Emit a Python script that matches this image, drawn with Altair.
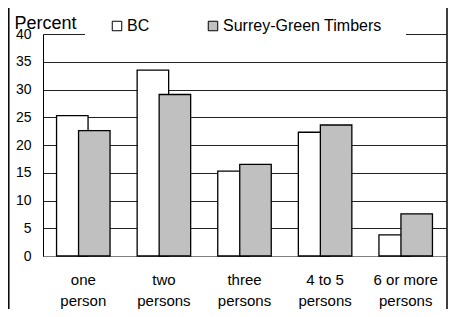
import altair as alt
import pandas as pd

categories = ["one|person", "two|persons", "three|persons", "4 to 5|persons", "6 or more|persons"]
series = ["BC", "Surrey-Green Timbers"]
bc_values = [25.3, 33.5, 15.3, 22.3, 3.8]
sgt_values = [22.6, 29.1, 16.5, 23.6, 7.6]
y_ticks = [0, 5, 10, 15, 20, 25, 30, 35, 40]
colors = ["#ffffff", "#c0c0c0"]

rows = []
for c, v in zip(categories, bc_values):
    rows.append({"category": c, "series": series[0], "value": v})
for c, v in zip(categories, sgt_values):
    rows.append({"category": c, "series": series[1], "value": v})
df = pd.DataFrame(rows)

x = alt.X(
    "category:N", sort=categories,
    scale=alt.Scale(paddingInner=0, paddingOuter=0),
    axis=alt.Axis(title=None, labelExpr="split(datum.label, '|')", labelAngle=0,
                  ticks=False, domainColor="#808080", labelFontSize=15,
                  labelLineHeight=21, labelPadding=16, labelBaseline="top",
                  labelColor="black", grid=False),
)
y = alt.Y(
    "value:Q", scale=alt.Scale(domain=[0, 40], nice=False),
    axis=alt.Axis(values=y_ticks, title="Percent", titleAngle=0, titleX=-29, titleY=-6,
                  titleAlign="left", titleBaseline="alphabetic", titleFontSize=18,
                  titleFontWeight="normal", titleColor="black", ticks=False,
                  labelPadding=12, domainColor="black", gridColor="#222",
                  labelFontSize=14, labelColor="black"),
)
color = alt.Color(
    "series:N", scale=alt.Scale(domain=series, range=colors),
    legend=alt.Legend(title=None, orient="none", direction="horizontal",
                      legendX=42, legendY=-40, fillColor="white", padding=24,
                      symbolType="square", symbolSize=90, symbolStrokeColor="black",
                      symbolStrokeWidth=1, symbolOpacity=1, labelFontSize=16,
                      columnPadding=55, labelOffset=2, labelColor="black"),
)

base = alt.Chart(df).encode(x=x, y=y, color=color)
bc = base.transform_filter(alt.datum.series == series[0]).mark_bar(
    width=31.5, xOffset=-11, stroke="black", strokeWidth=1.3, opacity=1)
sgt = base.transform_filter(alt.datum.series == series[1]).mark_bar(
    width=31.5, xOffset=11, stroke="black", strokeWidth=1.3, opacity=1)

border = alt.Chart(pd.DataFrame({"a": [0]})).mark_rect(
    fillOpacity=0, stroke="black", strokeWidth=1.5).encode(
    x=alt.value(-34.2), x2=alt.value(404), y=alt.value(-60), y2=alt.value(300))

chart = alt.layer(bc, sgt, border).properties(
    width=403, height=222,
    padding={"left": 35, "top": 26, "right": 2, "bottom": 53},
    autosize="none",
).configure(font="Liberation Sans").configure_view(stroke=None)

chart.save("out.html", embed_options={"renderer": "svg", "actions": False})
